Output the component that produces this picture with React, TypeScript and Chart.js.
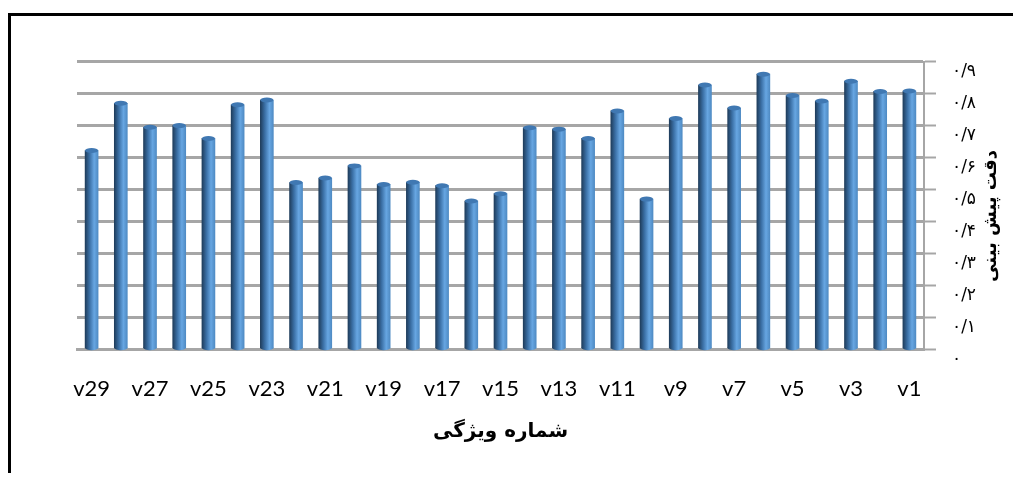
import React, { useEffect, useRef } from "react";
import { Chart, registerables } from "chart.js";

Chart.register(...registerables);

const categories = [
  "v1", "v2", "v3", "v4", "v5", "v6", "v7", "v8", "v9", "v10",
  "v11", "v12", "v13", "v14", "v15", "v16", "v17", "v18", "v19", "v20",
  "v21", "v22", "v23", "v24", "v25", "v26", "v27", "v28", "v29",
];

const accuracy = [
  0.808, 0.807, 0.839, 0.777, 0.794, 0.861, 0.755, 0.827, 0.722, 0.47,
  0.746, 0.66, 0.689, 0.693, 0.487, 0.464, 0.512, 0.523, 0.516, 0.574,
  0.536, 0.522, 0.78, 0.765, 0.66, 0.70, 0.695, 0.77, 0.622,
];

const yTickLabels = ["۰", "۰/۱", "۰/۲", "۰/۳", "۰/۴", "۰/۵", "۰/۶", "۰/۷", "۰/۸", "۰/۹"];

const xTitle = "شماره ویژگی";
const yTitle = "دقت پیش بینی";

const BAR_W = 13;

function barGradient(ctx: CanvasRenderingContext2D, x: number, w: number) {
  const g = ctx.createLinearGradient(x - w / 2, 0, x + w / 2, 0);
  g.addColorStop(0, "#1f3d5c");
  g.addColorStop(0.35, "#3b70a6");
  g.addColorStop(0.7, "#67a6e2");
  g.addColorStop(1, "#4f8bc4");
  return g;
}

export default function App() {
  const ref = useRef<HTMLCanvasElement | null>(null);

  useEffect(() => {
    if (!ref.current) return;

    const framePlugin = {
      id: "frame",
      beforeDraw(chart: any) {
        const { ctx, width, height } = chart;
        ctx.save();
        ctx.fillStyle = "#000";
        ctx.fillRect(0, 5, 3, height);
        ctx.fillRect(0, 5, width, 3);
        ctx.restore();
      },
    };

    const capsPlugin = {
      id: "caps",
      afterDatasetsDraw(chart: any) {
        const { ctx } = chart;
        const meta = chart.getDatasetMeta(0);
        ctx.save();
        meta.data.forEach((el: any) => {
          const x = el.x;
          const w = el.width;
          const base = el.base;
          if (!isFinite(x) || !isFinite(w)) return;
          ctx.fillStyle = barGradient(ctx, x, w);
          ctx.beginPath();
          ctx.ellipse(x, base, w / 2, 2.5, 0, 0, Math.PI * 2);
          ctx.fill();
          ctx.fillStyle = "#4078b2";
          ctx.beginPath();
          ctx.ellipse(x, el.y, w / 2, 2.5, 0, 0, Math.PI * 2);
          ctx.fill();
        });
        ctx.restore();
      },
    };

    const yTitlePlugin = {
      id: "ytitle",
      afterDraw(chart: any) {
        const { ctx } = chart;
        ctx.save();
        ctx.translate(983, 208);
        ctx.rotate(-Math.PI / 2);
        ctx.font = "bold 18px 'DejaVu Sans'";
        ctx.fillStyle = "#000";
        ctx.textAlign = "center";
        ctx.textBaseline = "middle";
        ctx.fillText(yTitle, 0, 0);
        ctx.restore();
      },
    };

    const chart = new Chart(ref.current, {
      type: "bar",
      data: {
        labels: categories,
        datasets: [
          {
            data: accuracy,
            barThickness: BAR_W,
            borderWidth: 0,
            backgroundColor: (c: any) => {
              const ch = c.chart;
              const xs = ch.scales && ch.scales.x;
              if (!xs || c.dataIndex == null) return "#4f81bd";
              const x = xs.getPixelForValue(c.dataIndex);
              if (!isFinite(x)) return "#4f81bd";
              return barGradient(ch.ctx, x, BAR_W);
            },
          },
        ],
      },
      options: {
        animation: false,
        responsive: false,
        layout: { padding: { left: 69, right: 37, top: 53.7, bottom: 23.7 } },
        plugins: { legend: { display: false }, tooltip: { enabled: false } },
        scales: {
          x: {
            reverse: true,
            offset: true,
            grid: { display: false, drawTicks: false },
            border: { display: true, color: "#a6a6a6", width: 3 },
            afterFit: (s: any) => {
              s.height = 100;
            },
            ticks: {
              autoSkip: false,
              maxRotation: 0,
              minRotation: 0,
              padding: 26,
              color: "#000",
              font: { family: "Lato", size: 22 },
              callback: (v: any) => (Number(v) % 2 === 0 ? categories[Number(v)] : ""),
            },
            title: {
              display: true,
              text: xTitle,
              color: "#000",
              font: { family: "DejaVu Sans", size: 20, weight: "bold" },
              padding: { top: 0, bottom: 5.3 },
            },
          },
          y: {
            position: "right",
            min: 0,
            max: 0.9,
            afterFit: (s: any) => {
              s.width = 60;
            },
            grid: {
              color: "#a6a6a6",
              lineWidth: 3,
              drawTicks: true,
              tickLength: 12,
              tickColor: "#a6a6a6",
              tickWidth: 2,
            },
            border: { display: true, color: "#a6a6a6", width: 2 },
            ticks: {
              stepSize: 0.1,
              padding: 16,
              labelOffset: 10,
              color: "#000",
              font: { family: "DejaVu Sans", size: 17 },
              callback: (v: any) => {
                const i = Math.round(Number(v) * 10);
                return yTickLabels[i] ?? "";
              },
            },
          },
        },
      },
      plugins: [framePlugin, capsPlugin, yTitlePlugin],
    });

    return () => chart.destroy();
  }, []);

  return (
    <div style={{ width: 1013, height: 465 }}>
      <canvas ref={ref} width={1013} height={465} style={{ display: "block" }} />
    </div>
  );
}
